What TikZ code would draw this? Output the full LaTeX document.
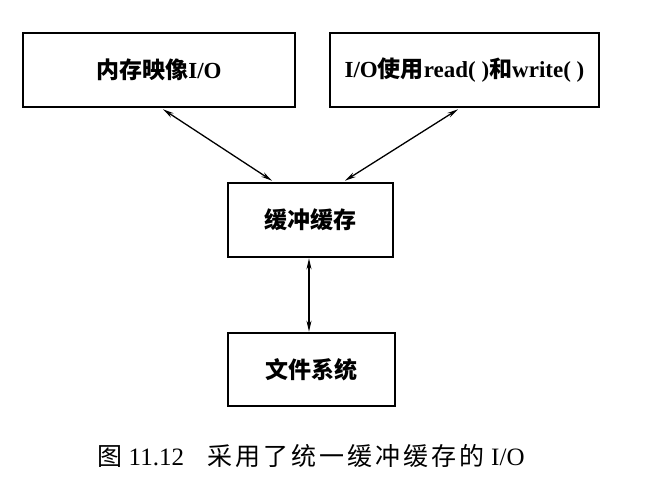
\documentclass[tikz,border=0pt]{standalone}
\usepackage{fontspec}
\setmainfont{Liberation Serif}
\newfontfamily\cjk{Noto Sans CJK SC}
\newfontfamily\cjkcap{Noto Sans CJK SC}[LetterSpace=12]
\usetikzlibrary{arrows.meta,calc}
\begin{document}
\begin{tikzpicture}[x=1pt,y=-1pt,
  boxnode/.style={draw, line width=2.6pt, inner sep=0pt, font=\fontsize{23}{27}\selectfont\bfseries},
  conn/.style={line width=1.3pt, {Stealth[length=11pt,width=5pt]}-{Stealth[length=11pt,width=5pt]}}]
\useasboundingbox (0,0) rectangle (649,499);
\node[boxnode, minimum width=272pt, minimum height=74pt] (mm) at (159,70) {{\cjk 内存映像}I/O};
\node[boxnode, minimum width=269pt, minimum height=74pt] (rw) at (464.5,70) {I/O{\cjk 使用}read( ){\cjk 和}write( )};
\node[boxnode, minimum width=165pt, minimum height=74pt] (bc) at (310.5,220) {{\cjk 缓冲缓存}};
\node[boxnode, minimum width=167pt, minimum height=73pt] (fs) at (311.5,369.5) {{\cjk 文件系统}};
\draw[conn] ($(mm.south)+(4,1)$) -- ($(bc.north)+(-38.5,-1)$);
\draw[conn] ($(rw.south)+(-6.5,1)$) -- ($(bc.north)+(34.5,-1)$);
\draw[conn] ($(bc.south)+(-1.5,0)$) -- ($(fs.north)+(-2.5,0)$);
\node[font=\fontsize{25}{29}\selectfont] (cap) at (311,456) {{\cjk 图} 11.12\hspace{24pt}{\cjkcap 采用了统一缓冲缓存的} I/O};
\end{tikzpicture}
\end{document}
